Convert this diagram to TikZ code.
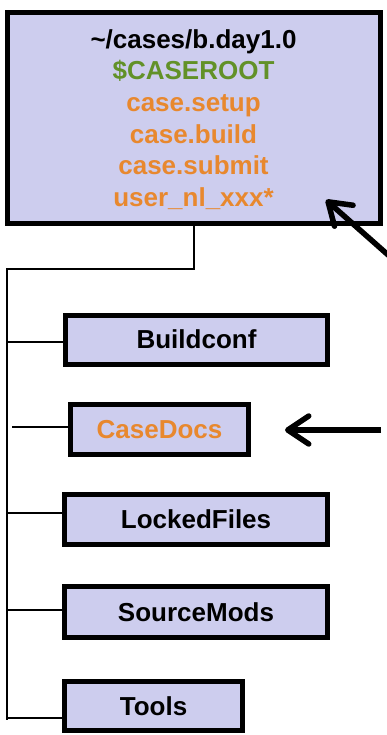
\documentclass[tikz,border=0pt]{standalone}
\usepackage{fontspec}
\setmainfont{Liberation Sans}
\usetikzlibrary{arrows.meta}
\definecolor{boxfill}{RGB}{205,205,238}
\definecolor{rootgreen}{RGB}{98,145,40}
\definecolor{fileorange}{RGB}{232,136,46}
\tikzset{
  dirbox/.style={draw=black, fill=boxfill, line width=5pt, inner sep=0pt,
    font=\fontsize{26}{31.6}\selectfont\bfseries, align=center},
  dirtext/.style={inner sep=0pt, font=\fontsize{26}{31.6}\selectfont\bfseries, align=center},
  tree/.style={draw=black, line width=2pt, line join=miter},
  pointer/.style={line width=5.5pt, -{Straight Barb[length=21pt,width=28pt,round]}}
}
\begin{document}
\begin{tikzpicture}[x=1pt, y=-1pt]
\useasboundingbox (0,0) rectangle (386,735);

% case directory
\node[dirbox, minimum width=372.5pt, minimum height=210.5pt] (root) at (193.75,117.75) {};
\node[dirtext] (roottext) at (193.5,119.5)
  {\textcolor{black}{\char`\~/cases/b.day1.0}\\
   \textcolor{rootgreen}{\$CASEROOT}\\
   \textcolor{fileorange}{case.setup}\\
   \textcolor{fileorange}{case.build}\\
   \textcolor{fileorange}{case.submit}\\
   \textcolor{fileorange}{user\_nl\_xxx*}};

% subdirectories
\node[dirbox, minimum width=262pt, minimum height=49pt] (b1) at (196.5,339.7) {Buildconf};
\node[dirbox, minimum width=178pt, minimum height=50pt, text=fileorange] (b2) at (159.5,429.2) {CaseDocs};
\node[dirbox, minimum width=263pt, minimum height=50pt] (b3) at (196,519.2) {LockedFiles};
\node[dirbox, minimum width=263pt, minimum height=51pt] (b4) at (196,612) {SourceMods};
\node[dirbox, minimum width=178pt, minimum height=49pt] (b5) at (153.5,706.3) {Tools};

% tree connectors
\coordinate (elbow) at (7,269);
\coordinate (trunkend) at (7,720);
\coordinate (j1) at (7,341.7);
\coordinate (j2) at (12,427.3);
\coordinate (j3) at (7,513.3);
\coordinate (j4) at (7,610);
\coordinate (j5) at (7,718);
\draw[tree] (root.south) |- (elbow) -- (trunkend);
\draw[tree] (j1) -- (j1 -| b1.west);
\draw[tree] (j2) -- (j2 -| b2.west);
\draw[tree] (j3) -- (j3 -| b3.west);
\draw[tree] (j4) -- (j4 -| b4.west);
\draw[tree] (j5) -- (j5 -| b5.west);

% pointers
\coordinate (p1tail) at (404,269);
\coordinate (p1tip) at (326,200);
\coordinate (p2tail) at (381,430);
\coordinate (p2tip) at (285,430);
\draw[pointer] (p1tail) -- (p1tip);
\draw[pointer] (p2tail) -- (p2tip);
\end{tikzpicture}
\end{document}
